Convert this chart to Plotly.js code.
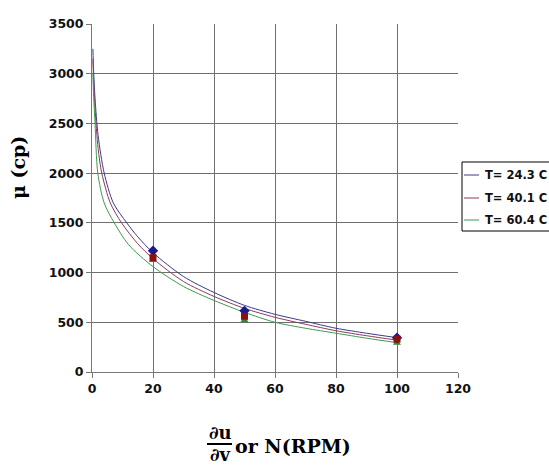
<!DOCTYPE html>
<html>
<head>
<meta charset="utf-8">
<script src="https://cdn.plot.ly/plotly-3.0.1.min.js"></script>
<style>
  html, body { margin: 0; padding: 0; background: #fff; }
  #chart { width: 549px; height: 467px; }
</style>
</head>
<body>
<div id="chart"></div>
<script>
// Viscosity vs. shear rate / spindle speed at three temperatures
const seriesNames = ['T= 24.3 C', 'T= 40.1 C', 'T= 60.4 C'];

// Fitted curves (x in RPM, mu in cp)
const curveX1 = [0.3, 0.5, 1, 2, 4, 7, 11.4, 15, 20, 30, 40, 50, 60, 70, 80, 90, 100];
const curveY1 = [3250, 3050, 2750, 2380, 2000, 1700, 1500, 1360, 1200, 960, 800, 670, 580, 510, 440, 390, 345];
const curveX2 = [0.3, 0.5, 1, 2, 3.2, 6, 9.7, 15, 20, 30, 40, 50, 60, 70, 80, 90, 100];
const curveY2 = [3150, 2950, 2650, 2250, 2000, 1700, 1500, 1290, 1140, 910, 760, 640, 550, 480, 415, 365, 320];
const curveX3 = [0.3, 0.5, 1, 1.9, 4, 7.3, 12, 20, 30, 40, 50, 60, 70, 80, 90, 100];
const curveY3 = [3000, 2800, 2500, 2000, 1700, 1500, 1280, 1060, 860, 720, 600, 500, 440, 390, 340, 295];

// Measured points
const pointX = [20, 50, 100];
const pointY1 = [1220, 615, 345];
const pointY2 = [1150, 560, 330];
const pointY3 = [1125, 520, 292];

const xTicks = [0, 20, 40, 60, 80, 100, 120];
const yTicks = [0, 500, 1000, 1500, 2000, 2500, 3000, 3500];

const lineColors = ['#3a3a8c', '#8a3a5c', '#3f9a4f'];
const markerColors = ['#1a1a8a', '#8b1010', '#2a8a2a'];

const curves = [[curveX1, curveY1], [curveX2, curveY2], [curveX3, curveY3]];
const traces = [];
curves.forEach((c, i) => {
  traces.push({
    x: c[0], y: c[1], name: seriesNames[i], type: 'scatter', mode: 'lines', showlegend: false,
    line: { color: lineColors[i], width: 1, shape: 'spline', smoothing: 0.8 },
    hoverinfo: 'skip'
  });
});
// draw order: green, blue, red
[[pointY3, 2, 'triangle-up', 7], [pointY1, 0, 'diamond', 8], [pointY2, 1, 'square', 7]].forEach(p => {
  traces.push({
    x: pointX, y: p[0], type: 'scatter', mode: 'markers', showlegend: false,
    marker: { color: markerColors[p[1]], symbol: p[2], size: p[3] }
  });
});

const tickFont = { family: 'DejaVu Sans', size: 12.5, color: '#111', weight: 'bold' };
const serif = 'DejaVu Serif';

// plot area in pixels: x 92..458, y 24..372
const PX0 = 92, PW = 366, PY1 = 372, PH = 348;
const px = v => (v - PX0) / PW;
const py = v => (PY1 - v) / PH;

const annotations = [
  { text: 'μ (cp)', xref: 'paper', yref: 'paper', x: px(18), y: py(168),
    xanchor: 'center', yanchor: 'middle', textangle: -90, showarrow: false,
    font: { family: serif, size: 19, color: '#000', weight: 'bold' } },
  { text: '∂u', xref: 'paper', yref: 'paper', x: px(220), y: py(432),
    xanchor: 'center', yanchor: 'middle', showarrow: false,
    font: { family: serif, size: 18, color: '#000', weight: 'bold' } },
  { text: '∂v', xref: 'paper', yref: 'paper', x: px(220), y: py(455),
    xanchor: 'center', yanchor: 'middle', showarrow: false,
    font: { family: serif, size: 18, color: '#000', weight: 'bold' } },
  { text: 'or N(RPM)', xref: 'paper', yref: 'paper', x: px(233), y: py(446),
    xanchor: 'left', yanchor: 'middle', showarrow: false,
    font: { family: serif, size: 19, color: '#000', weight: 'bold' } }
];
const shapes = [
  { type: 'line', xref: 'paper', yref: 'paper',
    x0: px(207), x1: px(232), y0: py(444), y1: py(444),
    line: { color: '#000', width: 2 } },
  // legend frame
  { type: 'rect', xref: 'paper', yref: 'paper',
    x0: px(462), x1: px(560), y0: py(162), y1: py(231),
    line: { color: '#000', width: 1 }, fillcolor: '#fff', layer: 'above' }
];
// legend entries
const legendRows = [175, 198, 220];
seriesNames.forEach((name, i) => {
  shapes.push({ type: 'line', xref: 'paper', yref: 'paper',
    x0: px(464), x1: px(479), y0: py(legendRows[i]), y1: py(legendRows[i]),
    line: { color: lineColors[i], width: 1 }, layer: 'above' });
  annotations.push({ text: name, xref: 'paper', yref: 'paper',
    x: px(483), y: py(legendRows[i]), xanchor: 'left', yanchor: 'middle',
    showarrow: false, xshift: 0,
    font: { family: 'DejaVu Sans', size: 11.5, color: '#111', weight: 'bold' } });
});

const layout = {
  width: 549, height: 467,
  margin: { l: 92, r: 91, t: 24, b: 95, autoexpand: false },
  paper_bgcolor: '#fff', plot_bgcolor: '#fff',
  showlegend: false,
  xaxis: {
    range: [0, 120], tickvals: xTicks, ticktext: xTicks.map(String),
    showgrid: true, gridcolor: '#6f6f6f', gridwidth: 1,
    showline: true, linecolor: '#777', linewidth: 1,
    ticks: 'outside', ticklen: 5, tickcolor: '#777',
    tickfont: tickFont, zeroline: false, fixedrange: true
  },
  yaxis: {
    range: [0, 3500], tickvals: yTicks, ticktext: yTicks.map(String),
    showgrid: true, gridcolor: '#6f6f6f', gridwidth: 1,
    showline: true, linecolor: '#777', linewidth: 1,
    ticks: 'outside', ticklen: 5, tickcolor: '#777',
    tickfont: tickFont, zeroline: false, fixedrange: true
  },
  annotations: annotations,
  shapes: shapes
};

Plotly.newPlot('chart', traces, layout, { staticPlot: true, displayModeBar: false });
</script>
</body>
</html>
